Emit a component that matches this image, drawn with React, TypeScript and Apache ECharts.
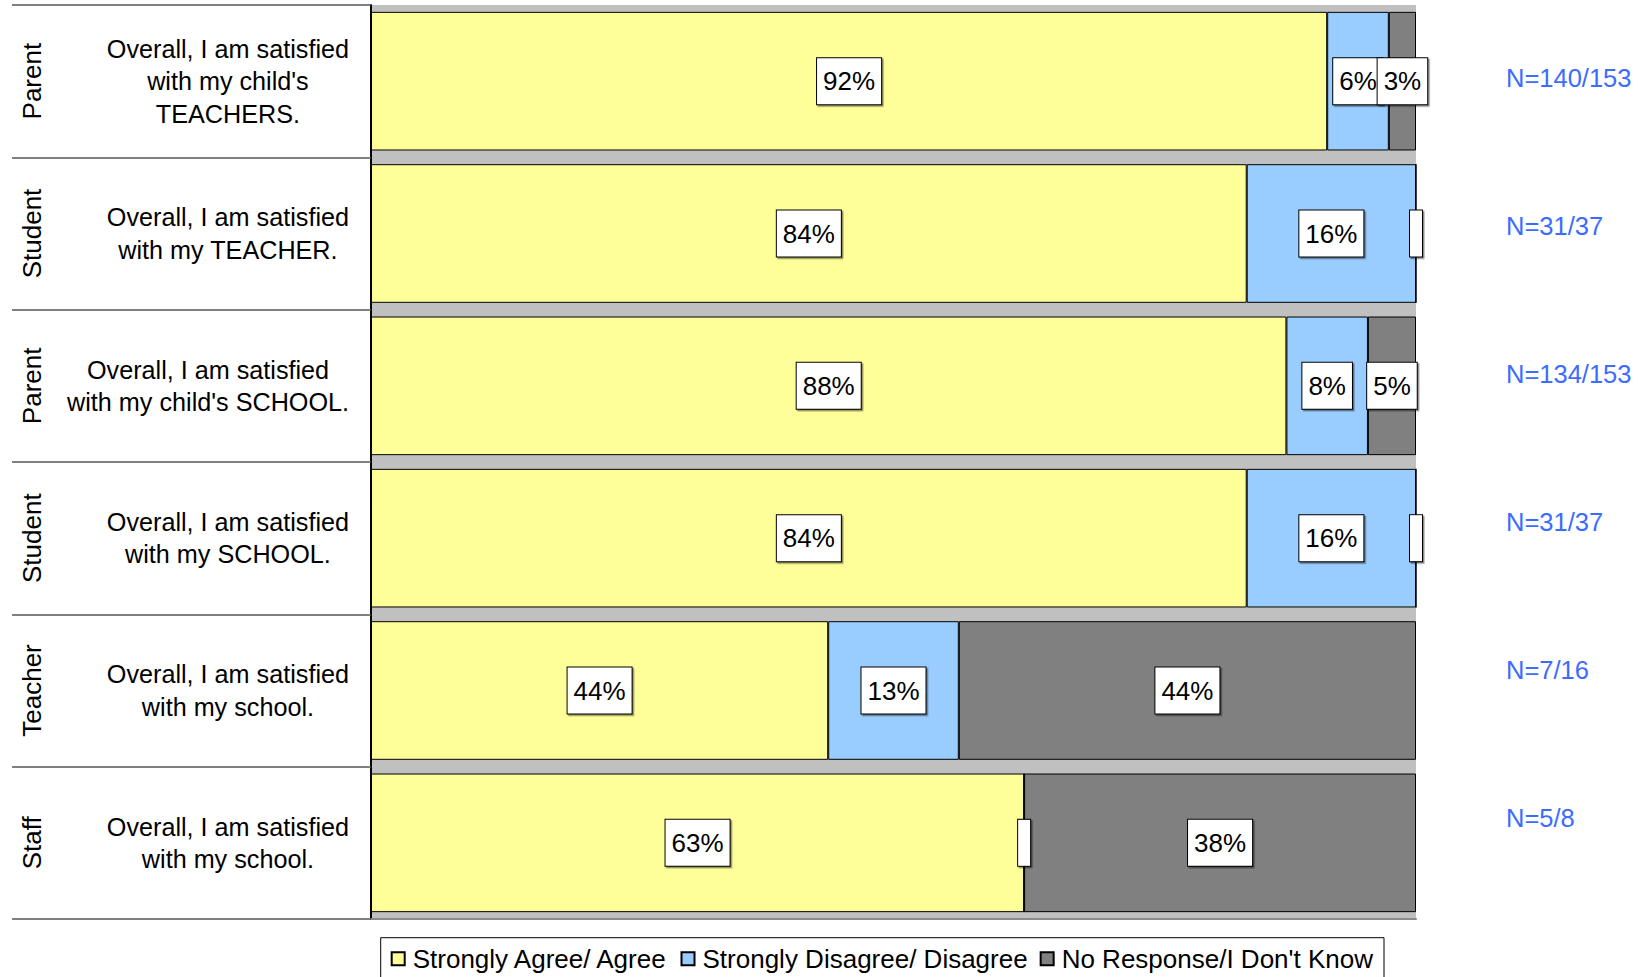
import React, { useEffect, useRef } from "react";
import * as echarts from "echarts";

const groups = ["Parent", "Student", "Parent", "Student", "Teacher", "Staff"];
const questions = [
  ["Overall, I am satisfied", "with my child's", "TEACHERS."],
  ["Overall, I am satisfied", "with my TEACHER."],
  ["Overall, I am satisfied", "with my child's SCHOOL."],
  ["Overall, I am satisfied", "with my SCHOOL."],
  ["Overall, I am satisfied", "with my school."],
  ["Overall, I am satisfied", "with my school."],
];
const rowKeys = ["0", "1", "2", "3", "4", "5"];
const agree = [91.5, 83.8, 87.6, 83.8, 43.75, 62.5];
const disagree = [5.9, 16.2, 7.8, 16.2, 12.5, 0];
const noResponse = [2.6, 0, 4.6, 0, 43.75, 37.5];
const nLabels = ["N=140/153", "N=31/37", "N=134/153", "N=31/37", "N=7/16", "N=5/8"];
const seriesNames = ["Strongly Agree/ Agree", "Strongly Disagree/ Disagree", "No Response/I Don't Know"];
const seriesColors = ["#FFFF99", "#99CCFF", "#808080"];

const FONT = "'Liberation Sans', Arial, sans-serif";

export default function App() {
  const ref = useRef<HTMLDivElement>(null);
  useEffect(() => {
    if (!ref.current) return;
    const chart = echarts.init(ref.current, undefined, { renderer: "svg" });
    const segLabel = {
      show: true,
      position: "inside",
      formatter: (p: any) => (p.value > 0 ? `${Math.round(p.value)}%` : "{z| }"),
      fontFamily: FONT,
      fontSize: 26,
      lineHeight: 26,
      color: "#000",
      backgroundColor: "#fff",
      borderColor: "#000",
      borderWidth: 1,
      padding: [10, 6],
      shadowColor: "rgba(0,0,0,0.45)",
      shadowOffsetX: 1.5,
      shadowOffsetY: 1.5,
      shadowBlur: 0,
      rich: { z: { width: 0, fontSize: 26, lineHeight: 26 } },
    };
    const values = [agree, disagree, noResponse];
    chart.setOption({
      animation: false,
      textStyle: { fontFamily: FONT },
      grid: [
        {
          left: 371,
          right: 230,
          top: 5,
          bottom: 58,
          show: true,
          backgroundColor: "#C0C0C0",
          borderWidth: 0,
        },
        { left: 1506, width: 130, top: 3.7, height: 888 },
      ],
      legend: {
        data: seriesNames,
        left: 380.7,
        top: 937.7,
        orient: "horizontal",
        borderColor: "#000",
        borderWidth: 1,
        padding: [8, 11, 8, 10],
        itemWidth: 13,
        itemHeight: 13,
        itemGap: 12,
        icon: "rect",
        selectedMode: false,
        textStyle: { fontSize: 26, color: "#000", fontFamily: FONT, padding: [0, 0, 0, 3] },
      },
      xAxis: [
        {
          type: "value",
          min: 0,
          max: 100,
          gridIndex: 0,
          axisLabel: { show: false },
          axisTick: { show: false },
          splitLine: { show: false },
          axisLine: { show: true, lineStyle: { color: "#8a8a8a", width: 2 } },
        },
        { type: "value", gridIndex: 1, show: false },
      ],
      yAxis: [
        {
          type: "category",
          gridIndex: 0,
          inverse: true,
          data: rowKeys,
          axisLine: { show: true, lineStyle: { color: "#000", width: 2 } },
          axisTick: { show: true, length: 359, lineStyle: { color: "#555", width: 1.5 } },
          axisLabel: {
            margin: 22,
            align: "right",
            formatter: (_v: string, i: number) => questions[i].map((l) => `{q|${l}}`).join("\n"),
            rich: {
              q: { align: "center", fontSize: 25.2, lineHeight: 32.5, color: "#000", fontFamily: FONT },
            },
          },
        },
        {
          type: "category",
          gridIndex: 0,
          inverse: true,
          position: "left",
          offset: 326,
          data: rowKeys,
          axisLine: { show: false },
          axisTick: { show: false },
          axisLabel: {
            rotate: 90,
            margin: 0,
            fontSize: 26,
            color: "#000",
            fontFamily: FONT,
            formatter: (_v: string, i: number) => groups[i],
          },
        },
        {
          type: "category",
          gridIndex: 1,
          inverse: true,
          data: nLabels,
          position: "left",
          axisLine: { show: false },
          axisTick: { show: false },
          axisLabel: {
            inside: true,
            margin: 0,
            align: "left",
            fontSize: 25.5,
            color: "#3D6BFF",
            fontFamily: FONT,
          },
        },
      ],
      series: seriesNames.map((name, k) => ({
        name,
        type: "bar",
        stack: "total",
        xAxisIndex: 0,
        yAxisIndex: 0,
        barCategoryGap: "9%",
        data: values[k],
        itemStyle: { color: seriesColors[k], borderColor: "#000", borderWidth: 1 },
        label: segLabel,
        emphasis: { disabled: true },
      })),
    });
    return () => chart.dispose();
  }, []);
  return (
    <div
      ref={ref}
      style={{ position: "fixed", left: 0, top: 0, width: 1646, height: 977, background: "#fff" }}
    />
  );
}
